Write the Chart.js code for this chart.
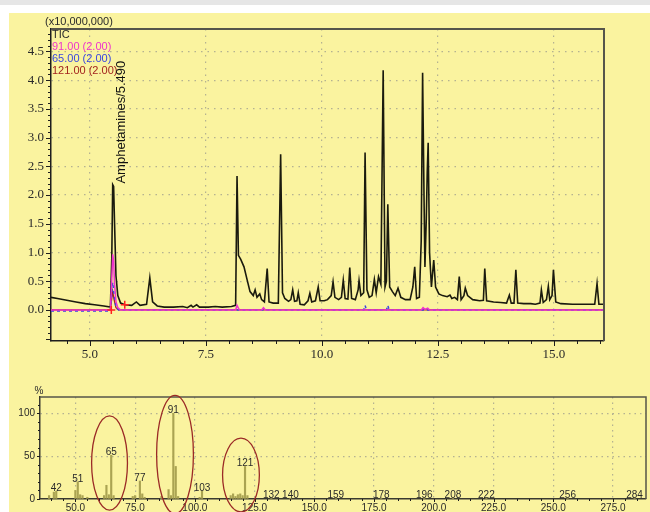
<!DOCTYPE html>
<html>
<head>
<meta charset="utf-8">
<script src="https://cdn.jsdelivr.net/npm/chart.js@4.4.0/dist/chart.umd.min.js"></script>
<style>
  html, body { margin: 0; padding: 0; background: #fff; }
  body { width: 650px; height: 512px; position: relative; overflow: hidden; }
  #topStrip { position: absolute; left: 0; top: 0; width: 650px; height: 5px; background: #e6e6e6; }
  #panel { position: absolute; left: 9px; top: 13px; width: 641px; height: 499px; background: #faf39f; }
  canvas { position: absolute; left: 0; }
  #ticChart { top: 0; }
  #specChart { top: 365px; }
</style>
</head>
<body>
<div id="topStrip"></div>
<div id="panel"></div>
<canvas id="ticChart" width="650" height="365"></canvas>
<canvas id="specChart" width="650" height="147"></canvas>
<script>
(function () {
    'use strict';

    // ── Chromatogram (TIC), retention time in min, intensity x10,000,000 ──
    const TIC_T = [4.16, 4.30, 4.50, 4.70, 4.90, 5.10, 5.30, 5.44, 5.47, 5.49, 5.51, 5.53, 5.56, 5.60, 5.66, 5.75,
        5.90, 6.00, 6.08, 6.22, 6.29, 6.35, 6.45, 6.60, 6.80, 7.00, 7.10, 7.18, 7.22, 7.30, 7.36, 7.55, 7.70, 7.85,
        8.05, 8.14, 8.17, 8.20, 8.25, 8.32, 8.38, 8.45, 8.52, 8.56, 8.60, 8.66, 8.70, 8.76, 8.82, 8.86, 8.95, 9.06,
        9.11, 9.15, 9.20, 9.28, 9.33, 9.37, 9.41, 9.46, 9.49, 9.53, 9.62, 9.70, 9.74, 9.78, 9.86, 9.92, 9.96, 10.05,
        10.12, 10.20, 10.24, 10.28, 10.36, 10.42, 10.46, 10.50, 10.56, 10.60, 10.64, 10.72, 10.78, 10.80, 10.84,
        10.90, 10.93, 10.97, 11.02, 11.08, 11.13, 11.17, 11.22, 11.27, 11.32, 11.36, 11.39, 11.42, 11.46, 11.52,
        11.58, 11.64, 11.70, 11.80, 11.90, 11.96, 12.00, 12.04, 12.10, 12.14, 12.17, 12.20, 12.22, 12.25, 12.27,
        12.29, 12.32, 12.36, 12.41, 12.45, 12.52, 12.60, 12.70, 12.76, 12.80, 12.86, 12.92, 12.96, 13.00, 13.06,
        13.09, 13.14, 13.25, 13.40, 13.48, 13.51, 13.55, 13.70, 13.85, 13.98, 14.04, 14.08, 14.14, 14.18, 14.22,
        14.35, 14.50, 14.60, 14.70, 14.73, 14.77, 14.84, 14.88, 14.91, 14.96, 14.99, 15.04, 15.15, 15.40, 15.70,
        15.88, 15.93, 15.97, 16.08];
    const TIC_V = [0.22, 0.20, 0.17, 0.14, 0.11, 0.09, 0.07, 0.05, 0.90, 2.18, 2.15, 1.50, 0.60, 0.25, 0.12, 0.09,
        0.08, 0.14, 0.08, 0.10, 0.56, 0.14, 0.07, 0.05, 0.05, 0.06, 0.04, 0.08, 0.05, 0.09, 0.05, 0.05, 0.06, 0.05,
        0.06, 0.08, 2.33, 0.95, 0.88, 0.75, 0.55, 0.32, 0.25, 0.35, 0.22, 0.28, 0.18, 0.14, 0.72, 0.14, 0.12, 0.12,
        2.71, 0.30, 0.20, 0.15, 0.18, 0.35, 0.15, 0.16, 0.30, 0.10, 0.09, 0.16, 0.29, 0.14, 0.16, 0.40, 0.16, 0.16,
        0.18, 0.25, 0.49, 0.22, 0.18, 0.22, 0.52, 0.20, 0.19, 0.74, 0.20, 0.18, 0.35, 0.51, 0.25,
        0.30, 2.74, 0.35, 0.22, 0.25, 0.53, 0.30, 0.58, 0.45, 4.17, 0.40, 0.50, 1.84, 0.40, 0.32,
        0.25, 0.38, 0.22, 0.18, 0.18, 0.40, 0.75, 0.20, 0.22, 1.20, 4.13, 2.00, 0.75, 1.60, 2.40,
        2.91, 1.00, 0.40, 0.87, 0.40, 0.28, 0.25, 0.23, 0.26, 0.20, 0.22, 0.18, 0.58, 0.18, 0.25,
        0.38, 0.25, 0.18, 0.16, 0.17, 0.72, 0.16, 0.14, 0.13, 0.12, 0.26, 0.12, 0.12, 0.70, 0.12,
        0.11, 0.11, 0.10, 0.12, 0.35, 0.13, 0.18, 0.41, 0.18, 0.25, 0.70, 0.14, 0.11, 0.10, 0.10,
        0.10, 0.46, 0.10, 0.10];

    // mass chromatograms m/z 91, 65, 121
    const ION91_T = [4.16, 5.44, 5.47, 5.49, 5.51, 5.53, 5.56, 5.60, 5.66, 8.14, 8.17, 8.22, 8.70, 8.74, 8.78,
        12.14, 12.18, 12.22, 12.28, 12.32, 16.08];
    const ION91_V = [0.0, 0.0, 0.55, 0.97, 0.85, 0.45, 0.15, 0.04, 0.0, 0.0, 0.08, 0.0, 0.0, 0.04, 0.0,
        0.0, 0.04, 0.01, 0.03, 0.0, 0.0];
    const ION65_T = [4.16, 5.40, 5.44, 5.47, 5.49, 5.52, 5.56, 5.62, 10.90, 10.93, 10.96, 11.39, 11.42, 11.45, 16.08];
    const ION65_V = [-0.02, -0.02, 0.0, 0.30, 0.48, 0.25, 0.06, 0.0, 0.0, 0.08, 0.0, 0.0, 0.08, 0.0, 0.0];
    const ION121_T = [4.16, 5.44, 5.47, 5.49, 5.52, 5.56, 5.62, 16.08];
    const ION121_V = [0.0, 0.0, 0.20, 0.32, 0.18, 0.04, 0.0, 0.0];

    // integration start / end marks of the amphetamine peak
    const MARK_T = [5.46, 5.75];
    const MARK_V = [0.0, 0.09];

    const RT_TICKS = [5.0, 7.5, 10.0, 12.5, 15.0];
    const TIC_TICKS = [0.0, 0.5, 1.0, 1.5, 2.0, 2.5, 3.0, 3.5, 4.0, 4.5];

    // ── Mass spectrum of the amphetamine peak ──
    const SPEC_MZ = [39, 41, 42, 50, 51, 52, 53, 55, 62, 63, 64, 65, 66, 74, 75, 77, 78, 79, 86, 89, 90, 91, 92, 93,
        102, 103, 115, 116, 117, 118, 119, 120, 121, 122, 132, 140, 159, 178, 196, 208, 222, 256, 284];
    const SPEC_INT = [4, 8, 9, 10, 20, 5, 4, 2, 4, 16, 5, 51, 4, 3, 4, 21, 6, 2, 3, 11, 4, 100, 38, 3,
        2, 9, 4, 6, 3, 5, 6, 4, 38, 4, 1, 1, 1, 1, 1, 1, 1, 1, 1];
    const SPEC_LABELED = [42, 51, 65, 77, 91, 103, 121, 132, 140, 159, 178, 196, 208, 222, 256, 284];
    const MZ_TICKS = [50, 75, 100, 125, 150, 175, 200, 225, 250, 275];
    const PCT_TICKS = [0, 50, 100];

    // circled fragments: centre m/z, centre %, half width (m/z), half height (%)
    const CIRCLE_MZ = [64.3, 91.7, 119.3];
    const CIRCLE_PCT = [42, 52, 28];
    const CIRCLE_RX = [7.5, 7.7, 7.7];
    const CIRCLE_RY = [55, 69, 43];

    const SANS = "'Liberation Sans', Arial, sans-serif";
    const SERIF = "'Liberation Serif', 'Times New Roman', serif";
    const TEXT = '#2a2a2a';
    const GRID = 'rgba(150,150,140,0.7)';
    const AXIS = '#1e1e1e';
    const FRAME = '#55554a';
    const C91 = '#ee33cc', C65 = '#3a46e0', C121 = '#a3241f';

    function pts(xs, ys) { return xs.map(function (x, i) { return { x: x, y: ys[i] }; }); }
    function fixTicks(list) { return function (s) { s.ticks = list.map(function (v) { return { value: v }; }); }; }

    // ── Plugins: frame + minor ticks, annotations ─────────────────
    const frameTicks = {
        id: 'frameTicks',
        afterDraw: function (chart, args, o) {
            const ctx = chart.ctx, a = chart.chartArea, x = chart.scales.x, y = chart.scales.y;
            ctx.save();
            ctx.strokeStyle = FRAME;
            ctx.lineWidth = o.frameWidth;
            ctx.beginPath();
            ctx.moveTo(a.left, a.top); ctx.lineTo(a.right, a.top); ctx.lineTo(a.right, a.bottom);
            ctx.stroke();
            ctx.strokeStyle = AXIS;
            ctx.lineWidth = 1;
            ctx.beginPath();
            let k, v, p, major;
            for (k = Math.ceil(x.min / o.xMinor); k * o.xMinor <= x.max; k++) {
                v = k * o.xMinor;
                major = Math.abs(v / o.xMajor - Math.round(v / o.xMajor)) < 1e-6;
                p = Math.round(x.getPixelForValue(v)) + 0.5;
                ctx.moveTo(p, a.bottom); ctx.lineTo(p, a.bottom + (major ? o.majorLen : o.minorLen));
            }
            for (k = Math.ceil(y.min / o.yMinor); k * o.yMinor <= y.max; k++) {
                v = k * o.yMinor;
                major = Math.abs(v / o.yMajor - Math.round(v / o.yMajor)) < 1e-6;
                p = Math.round(y.getPixelForValue(v)) + 0.5;
                ctx.moveTo(a.left - (major ? o.majorLen : o.minorLen), p); ctx.lineTo(a.left, p);
            }
            ctx.stroke();
            ctx.restore();
        }
    };

    const ticText = {
        id: 'ticText',
        afterDraw: function (chart) {
            const ctx = chart.ctx, a = chart.chartArea, x = chart.scales.x, y = chart.scales.y;
            ctx.save();
            ctx.font = '11px ' + SANS;
            ctx.textBaseline = 'middle';
            ctx.textAlign = 'left';
            ctx.fillStyle = TEXT;
            ctx.fillText('(x10,000,000)', a.left - 6, a.top - 7);
            ctx.fillText('TIC', a.left + 1, a.top + 6);
            ctx.fillStyle = C91; ctx.fillText('91.00 (2.00)', a.left + 1, a.top + 18);
            ctx.fillStyle = C65; ctx.fillText('65.00 (2.00)', a.left + 1, a.top + 30);
            ctx.fillStyle = C121; ctx.fillText('121.00 (2.00)', a.left + 1, a.top + 42);
            // peak label
            ctx.translate(x.getPixelForValue(5.49) + 9, y.getPixelForValue(2.2));
            ctx.rotate(-Math.PI / 2);
            ctx.font = '13px ' + SANS;
            ctx.fillStyle = '#111';
            ctx.fillText('Amphetamines/5.490', 0, 0);
            ctx.restore();
        }
    };

    const specText = {
        id: 'specText',
        afterDraw: function (chart) {
            const ctx = chart.ctx, a = chart.chartArea, x = chart.scales.x, y = chart.scales.y;
            ctx.save();
            ctx.fillStyle = TEXT;
            ctx.font = '10px ' + SANS;
            ctx.textAlign = 'center';
            ctx.textBaseline = 'bottom';
            ctx.fillText('%', a.left - 1, a.top - 1);
            SPEC_LABELED.forEach(function (mz) {
                const val = SPEC_INT[SPEC_MZ.indexOf(mz)];
                ctx.fillText(String(mz), x.getPixelForValue(mz), y.getPixelForValue(val) + 2);
            });
            ctx.strokeStyle = '#9b2a26';
            ctx.lineWidth = 1.3;
            CIRCLE_MZ.forEach(function (mz, i) {
                const cx = x.getPixelForValue(mz), cy = y.getPixelForValue(CIRCLE_PCT[i]);
                const rx = Math.abs(x.getPixelForValue(mz + CIRCLE_RX[i]) - cx);
                const ry = Math.abs(y.getPixelForValue(CIRCLE_RY[i]) - y.getPixelForValue(0));
                ctx.beginPath();
                ctx.ellipse(cx, cy, rx, ry, 0, 0, Math.PI * 2);
                ctx.stroke();
            });
            ctx.restore();
        }
    };

    // ── Chromatogram chart ────────────────────────────────────────
    new Chart(document.getElementById('ticChart'), {
        type: 'line',
        data: {
            datasets: [
                { data: pts(MARK_T, MARK_V), showLine: false, pointStyle: 'cross', pointRadius: 4,
                  borderColor: '#ff2020', borderWidth: 1.5 },
                { data: pts(ION91_T, ION91_V), borderColor: C91, borderWidth: 1.5, pointRadius: 0 },
                { data: pts(ION65_T, ION65_V), borderColor: C65, borderWidth: 1.5, pointRadius: 0, borderDash: [3, 3] },
                { data: pts(ION121_T, ION121_V), borderColor: C121, borderWidth: 1.3, pointRadius: 0 },
                { data: pts(TIC_T, TIC_V), borderColor: '#1a1a0e', borderWidth: 1.6, pointRadius: 0 }
            ]
        },
        options: {
            responsive: false,
            animation: false,
            layout: { padding: { left: 0, top: 29, right: 46, bottom: 0 } },
            plugins: {
                legend: { display: false },
                tooltip: { enabled: false },
                frameTicks: { frameWidth: 2, xMajor: 2.5, xMinor: 0.5, yMajor: 0.5, yMinor: 0.1, majorLen: 5, minorLen: 3 }
            },
            scales: {
                x: {
                    type: 'linear', min: 4.16, max: 16.08,
                    afterBuildTicks: fixTicks(RT_TICKS),
                    afterFit: function (s) { s.height = 24; },
                    ticks: { callback: function (v) { return v.toFixed(1); }, color: TEXT, padding: 6,
                        maxRotation: 0, autoSkip: false, font: { family: SERIF, size: 13 } },
                    grid: { color: GRID, lineWidth: 1.2, drawTicks: false },
                    border: { display: true, color: AXIS, width: 1.5, dash: [1.5, 5] }
                },
                y: {
                    min: -0.54, max: 4.89,
                    afterBuildTicks: fixTicks(TIC_TICKS),
                    afterFit: function (s) { s.width = 51; },
                    ticks: { callback: function (v) { return v.toFixed(1); }, color: TEXT, padding: 7,
                        font: { family: SERIF, size: 13 } },
                    grid: { color: GRID, lineWidth: 1.2, drawTicks: false },
                    border: { display: true, color: AXIS, width: 1.5, dash: [1.5, 5] }
                }
            }
        },
        plugins: [frameTicks, ticText]
    });

    // ── Mass spectrum chart ───────────────────────────────────────
    new Chart(document.getElementById('specChart'), {
        type: 'bar',
        data: {
            datasets: [{ data: pts(SPEC_MZ, SPEC_INT), backgroundColor: '#aaa352', barThickness: 1.5 }]
        },
        options: {
            responsive: false,
            animation: false,
            layout: { padding: { left: 0, top: 32, right: 4, bottom: 0 } },
            plugins: {
                legend: { display: false },
                tooltip: { enabled: false },
                frameTicks: { frameWidth: 1.5, xMajor: 25, xMinor: 5, yMajor: 50, yMinor: 10, majorLen: 3, minorLen: 2 }
            },
            scales: {
                x: {
                    type: 'linear', min: 35.2, max: 288.8, offset: false,
                    afterBuildTicks: fixTicks(MZ_TICKS),
                    afterFit: function (s) { s.height = 13; },
                    ticks: { callback: function (v) { return v.toFixed(1); }, color: TEXT, padding: 3,
                        maxRotation: 0, autoSkip: false, font: { family: SANS, size: 10 } },
                    grid: { color: GRID, lineWidth: 1.2, drawTicks: false, offset: false },
                    border: { display: true, color: '#3a3a30', width: 1.5, dash: [1.5, 4] }
                },
                y: {
                    min: 0, max: 119,
                    afterBuildTicks: fixTicks(PCT_TICKS),
                    afterFit: function (s) { s.width = 40; },
                    ticks: { color: TEXT, padding: 5, font: { family: SANS, size: 10 } },
                    grid: { color: function (c) { return c.tick && c.tick.value === 0 ? 'transparent' : GRID; },
                        lineWidth: 1.2, drawTicks: false },
                    border: { display: true, color: '#3a3a30', width: 1.5, dash: [1.5, 4] }
                }
            }
        },
        plugins: [frameTicks, specText]
    });
})();
</script>
</body>
</html>
